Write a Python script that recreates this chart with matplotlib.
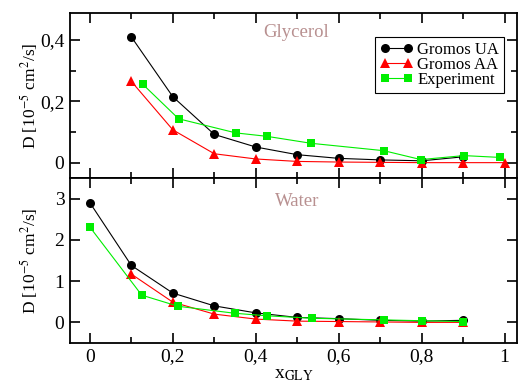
import matplotlib
matplotlib.use("Agg")
import matplotlib.pyplot as plt
from matplotlib.ticker import MultipleLocator, FuncFormatter

plt.rcParams['font.family'] = ['Liberation Serif', 'DejaVu Serif']
plt.rcParams['mathtext.fontset'] = 'stix'

# Glycerol self-diffusion
gly_x_sim = [0.1, 0.2, 0.3, 0.4, 0.5, 0.6, 0.7, 0.8, 0.9]
gly_ua = [0.41, 0.215, 0.092, 0.051, 0.026, 0.014, 0.009, 0.006, 0.019]
gly_x_aa = [0.1, 0.2, 0.3, 0.4, 0.5, 0.6, 0.7, 0.8, 0.9, 1.0]
gly_aa = [0.265, 0.107, 0.029, 0.012, 0.004, 0.002, 0.001, 0.0, 0.0, 0.0]
gly_x_exp = [0.128, 0.214, 0.352, 0.426, 0.534, 0.709, 0.798, 0.902, 0.99]
gly_exp = [0.255, 0.143, 0.097, 0.086, 0.063, 0.039, 0.010, 0.023, 0.017]

# Water self-diffusion
wat_x_ua = [0.0, 0.1, 0.2, 0.3, 0.4, 0.5, 0.6, 0.7, 0.8, 0.9]
wat_ua = [2.90, 1.38, 0.71, 0.40, 0.23, 0.12, 0.09, 0.05, 0.03, 0.05]
wat_x_aa = [0.1, 0.2, 0.3, 0.4, 0.5, 0.6, 0.7, 0.8, 0.9]
wat_aa = [1.17, 0.49, 0.20, 0.08, 0.03, 0.02, 0.01, 0.0, 0.0]
wat_x_exp = [0.0, 0.125, 0.213, 0.35, 0.426, 0.536, 0.709, 0.8, 0.9]
wat_exp = [2.31, 0.66, 0.39, 0.22, 0.16, 0.10, 0.06, 0.04, 0.02]

labels = ["Gromos UA", "Gromos AA", "Experiment"]
colors = ["black", "red", "#00ee00"]
markers = ["o", "^", "s"]
marker_sizes = [6.5, 7.2, 6.2]

fig = plt.figure(figsize=(5.25, 3.86), dpi=100)
ax1 = fig.add_axes([0.1333, 0.5389, 0.8515, 0.4274])
ax2 = fig.add_axes([0.1333, 0.1114, 0.8515, 0.4275])

comma = FuncFormatter(lambda v, p: ("%g" % round(v, 6)).replace(".", ","))


def draw(ax, series):
    for (xs, ys), lab, c, m, ms in zip(series, labels, colors, markers, marker_sizes):
        ax.plot(xs, ys, color=c, marker=m, markersize=ms, linewidth=0.8,
                markeredgewidth=0, label=lab)
    ax.set_xlim(-0.048, 1.03)
    ax.xaxis.set_major_locator(MultipleLocator(0.2))
    ax.xaxis.set_minor_locator(MultipleLocator(0.1))
    ax.tick_params(which="both", direction="in", top=True, right=True,
                   width=1.2, labelsize=14, pad=4)
    ax.tick_params(which="major", length=7)
    ax.tick_params(which="minor", length=4)
    for s in ax.spines.values():
        s.set_linewidth(1.3)
    ax.yaxis.set_major_formatter(comma)
    ax.xaxis.set_major_formatter(comma)
    ax.set_ylabel(r"D [10$^{-5}$ cm$^{2}$/s]", fontsize=12.5)
    ax.yaxis.set_label_coords(-0.066, 0.5)


# Glycerol panel
draw(ax1, [(gly_x_sim, gly_ua), (gly_x_aa, gly_aa), (gly_x_exp, gly_exp)])
ax1.set_ylim(-0.05, 0.488)
ax1.yaxis.set_major_locator(MultipleLocator(0.2))
ax1.yaxis.set_minor_locator(MultipleLocator(0.1))
ax1.tick_params(labelbottom=False)
ax1.text(0.498, 0.879, "Glycerol", transform=ax1.get_xaxis_transform(),
         color="#b89090", fontsize=13.5, ha="center", va="center")
leg = ax1.legend(loc="upper right", bbox_to_anchor=(0.971, 0.856), borderaxespad=0,
                 fontsize=12, numpoints=2, handlelength=2.0, handletextpad=0.25,
                 labelspacing=-0.05, borderpad=0.3, fancybox=False, framealpha=1,
                 edgecolor="black")
leg.get_frame().set_linewidth(0.8)

# Water panel
draw(ax2, [(wat_x_ua, wat_ua), (wat_x_aa, wat_aa), (wat_x_exp, wat_exp)])
ax2.set_ylim(-0.5, 3.5)
ax2.yaxis.set_major_locator(MultipleLocator(1))
ax2.yaxis.set_minor_locator(MultipleLocator(1))
ax2.text(0.5, 0.856, "Water", transform=ax2.get_xaxis_transform(),
         color="#b89090", fontsize=13.5, ha="center", va="center")
ax2.set_xlabel(r"x$_{\mathrm{GLY}}$", fontsize=14, labelpad=0)

fig.savefig("out.png", dpi=100)
